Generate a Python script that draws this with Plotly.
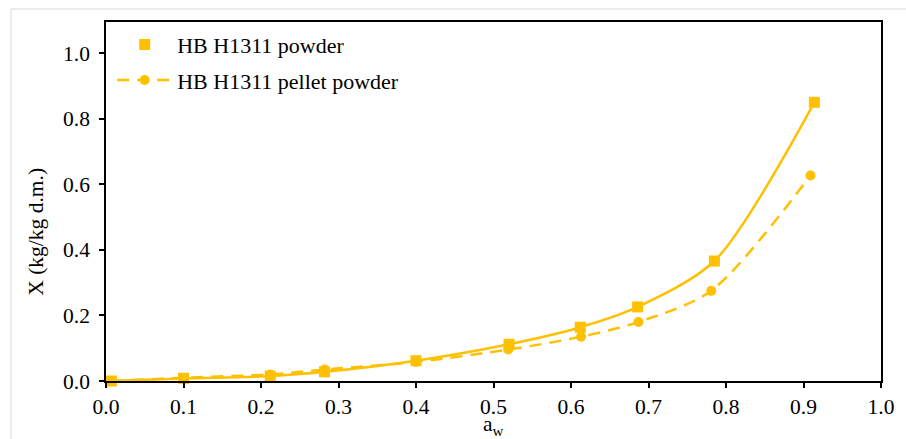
import plotly.graph_objects as go

# Data
aw_powder = [0.007, 0.100, 0.212, 0.282, 0.400, 0.520, 0.612, 0.686, 0.785, 0.914]
x_powder = [0.000, 0.008, 0.015, 0.028, 0.062, 0.112, 0.164, 0.226, 0.366, 0.850]

aw_pellet = [0.007, 0.100, 0.212, 0.282, 0.400, 0.519, 0.613, 0.687, 0.781, 0.909]
x_pellet = [0.000, 0.010, 0.020, 0.035, 0.058, 0.096, 0.135, 0.180, 0.275, 0.627]

x_ticks = [0.0, 0.1, 0.2, 0.3, 0.4, 0.5, 0.6, 0.7, 0.8, 0.9, 1.0]
y_ticks = [0.0, 0.2, 0.4, 0.6, 0.8, 1.0]

gold = "#FFC000"
font_family = "Liberation Serif"

fig = go.Figure()

# Solid fitted curve for powder (no legend entry)
fig.add_trace(go.Scatter(
    x=aw_powder, y=x_powder, mode="lines",
    line=dict(color=gold, width=2.5, shape="spline", smoothing=0.8),
    showlegend=False, hoverinfo="skip", cliponaxis=False,
))
# Powder markers
fig.add_trace(go.Scatter(
    x=aw_powder, y=x_powder, mode="markers", name="HB H1311 powder",
    marker=dict(symbol="square", size=11, color=gold),
    legendgroup="a", cliponaxis=False,
))
# Pellet powder dashed with circles
fig.add_trace(go.Scatter(
    x=aw_pellet, y=x_pellet, mode="lines+markers", name="HB H1311 pellet powder",
    line=dict(color=gold, width=2.5, dash="12px,8px", shape="spline", smoothing=0.8),
    marker=dict(symbol="circle", size=10, color=gold),
    legendgroup="b", cliponaxis=False,
))

fig.update_layout(
    width=906, height=439,
    margin=dict(l=106, r=17, t=22, b=58),
    paper_bgcolor="white", plot_bgcolor="white",
    font=dict(family=font_family, size=21.5, color="black"),
    showlegend=True,
    legend=dict(
        x=0.008, y=0.9956, xanchor="left", yanchor="top",
        bgcolor="rgba(0,0,0,0)", font=dict(size=22, family=font_family),
        traceorder="grouped", tracegroupgap=4, itemwidth=55,
    ),
    xaxis=dict(
        range=[0, 1], tickvals=x_ticks, ticktext=[f"{v:.1f}" for v in x_ticks],
        showgrid=False, zeroline=False,
        showline=True, linecolor="black", linewidth=1.5, mirror=True,
        ticks="outside", ticklen=5, tickcolor="black", tickwidth=1.5,
    ),
    yaxis=dict(
        range=[0, 1.095], tickvals=y_ticks, ticktext=[f"{v:.1f}" for v in y_ticks],
        showgrid=False, zeroline=False,
        showline=True, linecolor="black", linewidth=1.5, mirror=True,
        ticks="outside", ticklen=5, tickcolor="black", tickwidth=1.5,
        ticklabelstandoff=5,
    ),
    annotations=[
        dict(text="X (kg/kg d.m.)", xref="paper", yref="paper",
             x=(35 - 106) / 783, y=(381 - 232) / 359, textangle=-90,
             showarrow=False, font=dict(size=21.5, family=font_family),
             xanchor="center", yanchor="middle"),
        dict(text="a<sub>w</sub>", xref="paper", yref="paper",
             x=0.5, y=(381 - 426) / 359, showarrow=False,
             font=dict(size=21.5, family=font_family),
             xanchor="center", yanchor="middle"),
    ],
    shapes=[
        dict(type="rect", xref="paper", yref="paper",
             x0=(10 - 106) / 783, x1=1.2, y0=-0.5, y1=(381 - 9) / 359,
             line=dict(color="#d9d9d9", width=1), layer="below"),
    ],
)

fig.write_html("out.html")
